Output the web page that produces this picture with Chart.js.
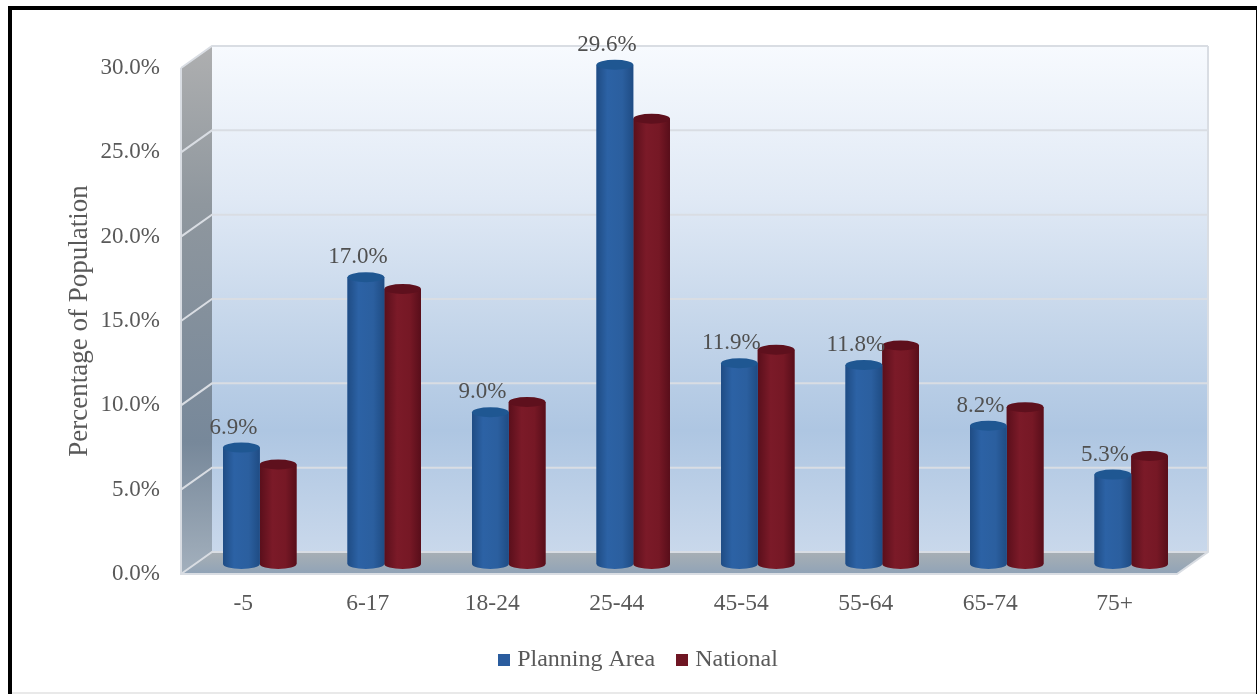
<!DOCTYPE html>
<html>
<head>
<meta charset="utf-8">
<title>Population by age</title>
<script src="https://cdn.jsdelivr.net/npm/chart.js@4/dist/chart.umd.min.js"></script>
<style>
  html, body { margin: 0; height: 100%; background: #fff; overflow: hidden; }
  #chartBox { position: absolute; left: 0; top: 0; width: 1257px; height: 694px; }
  #frame { position: absolute; left: 8px; top: 6px; width: 1300px; height: 800px; border: 4px solid #000; }
  #edge { position: absolute; left: 1256px; top: 6px; width: 1px; height: 688px; background: #000; }
  #foot { position: absolute; left: 12px; top: 692px; width: 1244px; height: 2px; background: #e9e9e9; }
</style>
</head>
<body>
<div id="frame"></div>
<div id="edge"></div>
<div id="foot"></div>
<div id="chartBox"><canvas id="ageChart" width="1257" height="694"></canvas></div>
<script>
const categories = ['-5', '6-17', '18-24', '25-44', '45-54', '55-64', '65-74', '75+'];
const planningArea = [6.9, 17.0, 9.0, 29.6, 11.9, 11.8, 8.2, 5.3];
const national = [5.9, 16.3, 9.6, 26.4, 12.7, 12.95, 9.3, 6.4];
const yTicks = [0, 5, 10, 15, 20, 25, 30];

const FONT = '"Liberation Serif", "Times New Roman", serif';
const TEXT = '#595959';
const BLUE = '#2a5c9e';
const RED = '#6f1623';

// how far the walls go back, and where the bars stand inside that depth
const DEPTH_X = 31, DEPTH_Y = 22;
const BAR_X = 16.5, BAR_Y = -10;

function swatch(color) {
  const c = document.createElement('canvas');
  c.width = 12;
  c.height = 12;
  const g = c.getContext('2d');
  g.fillStyle = color;
  g.fillRect(0, 0, 12, 12);
  return c;
}

function shade(ctx, y0, y1, stops) {
  const grad = ctx.createLinearGradient(0, y0, 0, y1);
  stops.forEach(s => grad.addColorStop(s[0], s[1]));
  return grad;
}

function polygon(ctx, pts, fill) {
  ctx.beginPath();
  pts.forEach((p, i) => i ? ctx.lineTo(p[0], p[1]) : ctx.moveTo(p[0], p[1]));
  ctx.closePath();
  ctx.fillStyle = fill;
  ctx.fill();
}

// Back wall, side wall, floor and gridlines
const walls = {
  id: 'walls',
  afterLayout(chart) {
    chart.legend.left += 20;
    chart.legend.right += 20;
  },
  beforeDatasetsDraw(chart) {
    const ctx = chart.ctx;
    const { left, right, top, bottom } = chart.chartArea;
    const bl = left + DEPTH_X, br = right + DEPTH_X;
    const bt = top - DEPTH_Y, bb = bottom - DEPTH_Y;
    ctx.save();
    polygon(ctx, [[bl, bt], [br, bt], [br, bb], [bl, bb]], shade(ctx, bt, bb, [
      [0, '#f7fafe'], [0.3, '#e0e9f5'], [0.55, '#c5d6ea'], [0.76, '#aec6e2'], [1, '#c9d8eb']
    ]));
    polygon(ctx, [[left, top], [bl, bt], [bl, bb], [left, bottom]], shade(ctx, bt, bottom, [
      [0, '#aeafb0'], [0.3, '#8f979e'], [0.75, '#77889a'], [1, '#a3b0bd']
    ]));
    polygon(ctx, [[left, bottom], [bl, bb], [br, bb], [right, bottom]], shade(ctx, bb, bottom, [
      [0, '#a8afb4'], [1, '#90a3b7']
    ]));
    ctx.strokeStyle = '#d9dde3';
    ctx.lineWidth = 2;
    yTicks.forEach(t => {
      const y = chart.scales.y.getPixelForValue(t);
      ctx.beginPath();
      ctx.moveTo(left, y);
      ctx.lineTo(bl, y - DEPTH_Y);
      ctx.lineTo(br, y - DEPTH_Y);
      ctx.stroke();
    });
    ctx.beginPath();
    ctx.moveTo(br, bt);
    ctx.lineTo(br, bb);
    ctx.lineTo(right, bottom);
    ctx.lineTo(left, bottom);
    ctx.lineTo(left, top);
    ctx.stroke();
    ctx.restore();

    // bars stand in the middle of the depth
    ctx.save();
    ctx.translate(BAR_X, BAR_Y);
  },
  afterDatasetDraw(chart, args) {
    const ctx = chart.ctx;
    const blue = args.index === 0;
    const ry = 5;
    args.meta.data.forEach(bar => {
      const p = bar.getProps(['x', 'y', 'base', 'width'], true);
      const x0 = p.x - p.width / 2, x1 = p.x + p.width / 2, rx = p.width / 2;
      const body = ctx.createLinearGradient(x0, 0, x1, 0);
      const stops = blue
        ? [[0, '#1f4c84'], [0.3, '#2c62a5'], [0.7, '#2b5f9f'], [1, '#1f4c84']]
        : [[0, '#5a0f1b'], [0.35, '#7b1a28'], [0.7, '#761825'], [1, '#580e1a']];
      stops.forEach(s => body.addColorStop(s[0], s[1]));
      ctx.beginPath();
      ctx.moveTo(x0, p.y);
      ctx.lineTo(x0, p.base);
      ctx.ellipse(p.x, p.base, rx, ry, 0, Math.PI, 0, true);
      ctx.lineTo(x1, p.y);
      ctx.closePath();
      ctx.fillStyle = body;
      ctx.fill();
      ctx.beginPath();
      ctx.ellipse(p.x, p.y, rx, ry, 0, 0, Math.PI * 2);
      ctx.fillStyle = blue ? '#1f5792' : '#5e101d';
      ctx.fill();
    });
  },
  afterDatasetsDraw(chart) {
    const ctx = chart.ctx;
    ctx.restore();
    // value labels on the Planning Area bars only
    ctx.save();
    ctx.font = '23px ' + FONT;
    ctx.fillStyle = '#505050';
    ctx.textAlign = 'center';
    ctx.textBaseline = 'middle';
    chart.getDatasetMeta(0).data.forEach((bar, i) => {
      ctx.fillText(planningArea[i].toFixed(1) + '%', bar.x + BAR_X - 8, bar.y + BAR_Y - 20);
    });
    ctx.restore();
  }
};

const swatches = [swatch(BLUE), swatch(RED)];

new Chart(document.getElementById('ageChart'), {
  type: 'bar',
  data: {
    labels: categories,
    datasets: [
      { label: 'Planning Area', data: planningArea, backgroundColor: BLUE },
      { label: 'National', data: national, backgroundColor: RED }
    ]
  },
  plugins: [walls],
  options: {
    responsive: false,
    animation: false,
    events: [],
    layout: { padding: { left: 64, right: 80, top: 68, bottom: 12 } },
    datasets: { bar: { categoryPercentage: 0.59, barPercentage: 1 } },
    plugins: {
      tooltip: { enabled: false },
      legend: {
        position: 'bottom',
        labels: {
          font: { family: FONT, size: 24 },
          color: TEXT,
          usePointStyle: true,
          boxWidth: 2,
          padding: 26,
          generateLabels(chart) {
            const items = Chart.defaults.plugins.legend.labels.generateLabels(chart);
            items.forEach((it, i) => { it.pointStyle = swatches[i]; });
            return items;
          }
        }
      }
    },
    scales: {
      x: {
        grid: { display: false, drawTicks: false },
        border: { display: false },
        ticks: { font: { family: FONT, size: 23.5 }, color: TEXT, padding: 16, maxRotation: 0 },
        afterFit(scale) { scale.height = 48; }
      },
      y: {
        min: 0,
        max: 30,
        grid: { display: false, drawTicks: false },
        border: { display: false },
        afterBuildTicks(scale) { scale.ticks = yTicks.map(v => ({ value: v })); },
        afterFit(scale) { scale.width = 117; },
        ticks: {
          font: { family: FONT, size: 23 },
          color: TEXT,
          padding: 21,
          callback: v => v.toFixed(1) + '%'
        },
        title: {
          display: true,
          text: 'Percentage of Population',
          font: { family: FONT, size: 27 },
          color: TEXT,
          padding: { top: 0, bottom: 0 }
        }
      }
    }
  }
});
</script>
</body>
</html>
